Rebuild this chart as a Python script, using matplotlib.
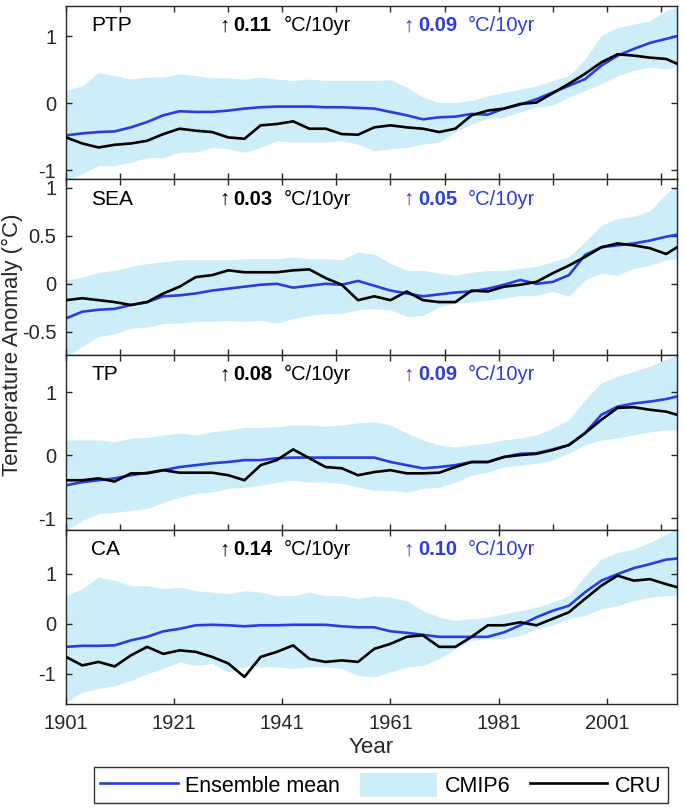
import matplotlib
matplotlib.use('Agg')
import matplotlib.pyplot as plt
import numpy as np

plt.rcParams['font.family'] = ['Liberation Sans', 'DejaVu Sans']
plt.rcParams['font.size'] = 14

# ==============================================================
# data (3-year steps)
years = [1901, 1904, 1907, 1910, 1913, 1916, 1919, 1922, 1925, 1928,
         1931, 1934, 1937, 1940, 1943, 1946, 1949, 1952, 1955, 1958,
         1961, 1964, 1967, 1970, 1973, 1976, 1979, 1982, 1985, 1988,
         1991, 1994, 1997, 2000, 2003, 2006, 2009, 2012, 2014]

regions = ['PTP', 'SEA', 'TP', 'CA']
cru_trend = ['0.11', '0.03', '0.08', '0.14']
cmip_trend = ['0.09', '0.05', '0.09', '0.10']

# PTP
ptp_mean = [-0.48, -0.45, -0.43, -0.42, -0.36, -0.28, -0.18, -0.12, -0.13, -0.13,
            -0.11, -0.08, -0.06, -0.05, -0.05, -0.05, -0.06, -0.06, -0.07, -0.08,
            -0.13, -0.18, -0.24, -0.21, -0.20, -0.16, -0.17, -0.08, -0.02, 0.06,
            0.16, 0.26, 0.36, 0.56, 0.71, 0.81, 0.90, 0.96, 1.00]
ptp_cru = [-0.51, -0.60, -0.66, -0.62, -0.60, -0.56, -0.46, -0.38, -0.41, -0.43,
           -0.51, -0.53, -0.33, -0.31, -0.27, -0.38, -0.38, -0.46, -0.47, -0.36,
           -0.33, -0.36, -0.38, -0.43, -0.38, -0.18, -0.11, -0.08, -0.01, 0.01,
           0.15, 0.29, 0.44, 0.61, 0.73, 0.71, 0.68, 0.66, 0.59]
ptp_hi = [0.19, 0.26, 0.46, 0.41, 0.36, 0.39, 0.39, 0.44, 0.41, 0.38,
          0.38, 0.36, 0.39, 0.36, 0.34, 0.36, 0.34, 0.34, 0.34, 0.34,
          0.35, 0.24, 0.09, 0.01, 0.01, 0.04, 0.11, 0.16, 0.21, 0.26,
          0.34, 0.41, 0.66, 1.01, 1.13, 1.18, 1.23, 1.38, 1.43]
ptp_lo = [-1.15, -1.05, -0.93, -0.93, -0.88, -0.81, -0.81, -0.73, -0.73, -0.66,
          -0.68, -0.73, -0.66, -0.56, -0.58, -0.58, -0.58, -0.56, -0.61, -0.71,
          -0.68, -0.66, -0.61, -0.58, -0.43, -0.31, -0.23, -0.21, -0.13, -0.06,
          -0.03, 0.09, 0.19, 0.29, 0.41, 0.49, 0.54, 0.51, 0.54]

# SEA
sea_mean = [-0.36, -0.29, -0.27, -0.26, -0.22, -0.19, -0.13, -0.12, -0.10, -0.07,
            -0.05, -0.03, -0.01, 0.00, -0.04, -0.02, 0.00, -0.01, 0.03, -0.02,
            -0.07, -0.10, -0.13, -0.11, -0.09, -0.08, -0.05, -0.01, 0.04, 0.00,
            0.02, 0.09, 0.30, 0.38, 0.40, 0.42, 0.45, 0.49, 0.51]
sea_cru = [-0.17, -0.15, -0.17, -0.19, -0.22, -0.19, -0.10, -0.03, 0.07, 0.09,
           0.14, 0.12, 0.12, 0.12, 0.14, 0.15, 0.06, -0.01, -0.17, -0.13,
           -0.17, -0.08, -0.17, -0.19, -0.19, -0.07, -0.08, -0.03, -0.01, 0.02,
           0.11, 0.19, 0.28, 0.38, 0.42, 0.40, 0.37, 0.31, 0.38]
sea_hi = [0.04, 0.07, 0.12, 0.14, 0.18, 0.21, 0.23, 0.25, 0.25, 0.25,
          0.25, 0.26, 0.26, 0.26, 0.28, 0.26, 0.26, 0.25, 0.33, 0.31,
          0.21, 0.14, 0.14, 0.11, 0.09, 0.12, 0.14, 0.14, 0.16, 0.18,
          0.23, 0.28, 0.44, 0.61, 0.68, 0.70, 0.76, 0.94, 1.02]
sea_lo = [-0.76, -0.65, -0.55, -0.52, -0.46, -0.45, -0.41, -0.41, -0.39, -0.39,
          -0.38, -0.39, -0.38, -0.41, -0.36, -0.33, -0.31, -0.31, -0.27, -0.26,
          -0.27, -0.34, -0.33, -0.24, -0.20, -0.19, -0.17, -0.15, -0.12, -0.12,
          -0.08, -0.13, 0.04, 0.11, 0.09, 0.16, 0.19, 0.25, 0.26]

# TP
tp_mean = [-0.48, -0.43, -0.40, -0.37, -0.32, -0.28, -0.24, -0.19, -0.16, -0.13,
           -0.11, -0.08, -0.08, -0.05, -0.04, -0.04, -0.04, -0.04, -0.04, -0.04,
           -0.11, -0.16, -0.21, -0.19, -0.16, -0.11, -0.11, -0.03, 0.02, 0.03,
           0.09, 0.16, 0.35, 0.64, 0.77, 0.82, 0.85, 0.89, 0.93]
tp_cru = [-0.40, -0.40, -0.37, -0.42, -0.29, -0.29, -0.24, -0.28, -0.28, -0.28,
          -0.32, -0.40, -0.16, -0.08, 0.09, -0.05, -0.19, -0.21, -0.32, -0.27,
          -0.24, -0.29, -0.29, -0.28, -0.19, -0.11, -0.11, -0.03, 0.00, 0.02,
          0.08, 0.16, 0.35, 0.56, 0.75, 0.76, 0.72, 0.69, 0.64]
tp_hi = [0.24, 0.24, 0.24, 0.21, 0.27, 0.28, 0.32, 0.35, 0.32, 0.37,
         0.40, 0.44, 0.44, 0.45, 0.48, 0.48, 0.46, 0.48, 0.51, 0.53,
         0.48, 0.35, 0.24, 0.16, 0.13, 0.16, 0.19, 0.24, 0.27, 0.32,
         0.43, 0.56, 0.88, 1.15, 1.25, 1.33, 1.41, 1.52, 1.60]
tp_lo = [-1.20, -1.04, -0.93, -0.91, -0.88, -0.85, -0.75, -0.67, -0.61, -0.59,
         -0.53, -0.51, -0.48, -0.43, -0.40, -0.43, -0.43, -0.45, -0.51, -0.56,
         -0.56, -0.59, -0.53, -0.51, -0.43, -0.32, -0.27, -0.19, -0.16, -0.13,
         -0.08, 0.03, 0.16, 0.24, 0.27, 0.32, 0.37, 0.40, 0.40]

# CA
ca_mean = [-0.46, -0.44, -0.44, -0.43, -0.33, -0.26, -0.15, -0.10, -0.03, -0.02,
           -0.03, -0.05, -0.03, -0.03, -0.02, -0.02, -0.02, -0.05, -0.07, -0.07,
           -0.15, -0.18, -0.22, -0.26, -0.26, -0.26, -0.26, -0.17, -0.03, 0.13,
           0.26, 0.36, 0.63, 0.86, 0.99, 1.11, 1.19, 1.28, 1.30]
ca_cru = [-0.66, -0.83, -0.76, -0.85, -0.63, -0.46, -0.60, -0.53, -0.56, -0.66,
          -0.79, -1.06, -0.66, -0.56, -0.43, -0.70, -0.76, -0.73, -0.76, -0.50,
          -0.40, -0.26, -0.23, -0.46, -0.46, -0.26, -0.03, -0.03, 0.03, -0.03,
          0.10, 0.23, 0.50, 0.76, 0.96, 0.86, 0.89, 0.79, 0.73]
ca_hi = [0.56, 0.70, 0.93, 0.86, 0.76, 0.76, 0.70, 0.73, 0.66, 0.63,
         0.60, 0.66, 0.63, 0.56, 0.56, 0.63, 0.56, 0.56, 0.50, 0.56,
         0.53, 0.46, 0.26, 0.13, 0.07, 0.10, 0.13, 0.20, 0.26, 0.33,
         0.43, 0.56, 0.96, 1.29, 1.42, 1.49, 1.62, 1.79, 1.89]
ca_lo = [-1.56, -1.36, -1.29, -1.23, -1.13, -1.00, -0.89, -0.76, -0.83, -0.79,
         -0.96, -0.86, -0.86, -0.86, -0.89, -0.86, -0.86, -0.89, -1.03, -1.06,
         -0.96, -0.86, -0.83, -0.70, -0.50, -0.33, -0.30, -0.30, -0.23, -0.10,
         -0.03, 0.10, 0.17, 0.30, 0.36, 0.46, 0.53, 0.56, 0.56]

means = [ptp_mean, sea_mean, tp_mean, ca_mean]
crus = [ptp_cru, sea_cru, tp_cru, ca_cru]
his = [ptp_hi, sea_hi, tp_hi, ca_hi]
los = [ptp_lo, sea_lo, tp_lo, ca_lo]

ylims = [(-1.13, 1.45), (-0.74, 1.09), (-1.19, 1.59), (-1.60, 1.87)]
yticks = [[-1, 0, 1], [-0.5, 0, 0.5, 1], [-1, 0, 1], [-1, 0, 1]]

# ==============================================================
blue = '#2a3de0'
band = '#cdeef8'
dark = '#262626'

fig = plt.figure(figsize=(6.85, 8.11), dpi=100)

# axes positions (left, bottom, width, height) in figure fraction
rects = [[0.0964, 0.7793, 0.892, 0.2133],
         [0.0964, 0.5623, 0.892, 0.2170],
         [0.0964, 0.3465, 0.892, 0.2158],
         [0.0964, 0.1319, 0.892, 0.2146]]

axes = []
for i, name in enumerate(regions):
    ax = fig.add_axes(rects[i])
    axes.append(ax)

    h_band = ax.fill_between(years, los[i], his[i], color=band, linewidth=0, zorder=1)
    h_mean, = ax.plot(years, means[i], color=blue, linewidth=1.9, zorder=2)
    h_cru, = ax.plot(years, crus[i], color='black', linewidth=1.9, zorder=3)

    ax.set_xlim(1901, 2014)
    ax.set_ylim(*ylims[i])
    ax.set_yticks(yticks[i])
    ax.set_yticklabels([f'{v:g}' for v in yticks[i]])

    if i < 3:
        ax.set_xticks(np.arange(1901, 2014, 10))
        ax.set_xticklabels([])
    else:
        ax.set_xticks(np.arange(1901, 2014, 20))

    ax.tick_params(direction='in', length=4, width=1, top=True, right=True,
                   colors=dark, labelsize=14.5, pad=7)
    for s in ax.spines.values():
        s.set_linewidth(1.0)
        s.set_color(dark)

    # region name + trend annotations
    ty = 0.886
    ax.text(0.041, ty, name, transform=ax.transAxes, va='center', ha='left',
            fontsize=15, color='black')
    ax.text(0.259, ty, '\u2191', transform=ax.transAxes, va='center', ha='center',
            fontsize=15, color='black')
    ax.text(0.274, ty, cru_trend[i], transform=ax.transAxes, va='center', ha='left',
            fontsize=14.5, fontweight='bold', color='black')
    ax.text(0.357, ty, '\u00b0C/10yr', transform=ax.transAxes, va='center', ha='left',
            fontsize=14.5, color='black')
    ax.text(0.561, ty, '\u2191', transform=ax.transAxes, va='center', ha='center',
            fontsize=15, color=blue)
    ax.text(0.577, ty, cmip_trend[i], transform=ax.transAxes, va='center', ha='left',
            fontsize=14.5, fontweight='bold', color=blue)
    ax.text(0.658, ty, '\u00b0C/10yr', transform=ax.transAxes, va='center', ha='left',
            fontsize=14.5, color=blue)

axes[-1].set_xlabel('Year', fontsize=16, color=dark, labelpad=3)
fig.text(0.018, 0.575, 'Temperature Anomaly (\u00b0C)', rotation=90,
         va='center', ha='center', fontsize=16, color=dark)

leg = fig.legend([h_mean, h_band, h_cru], ['Ensemble mean', 'CMIP6', 'CRU'],
                 loc='center', bbox_to_anchor=(0.556, 0.032), ncol=3,
                 frameon=True, fancybox=False, edgecolor='black', fontsize=15.5,
                 handlelength=3.6, handleheight=1.3, handletextpad=0.35,
                 columnspacing=0.9, borderpad=0.3, borderaxespad=0)
leg.get_frame().set_linewidth(1.0)

fig.savefig('out.png', dpi=100)
